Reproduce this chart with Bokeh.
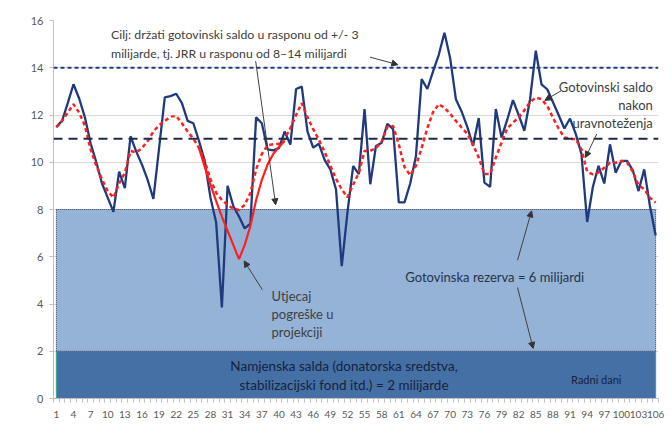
from bokeh.plotting import figure
from bokeh.models import Span, Label, Arrow, NormalHead, FixedTicker, Range1d
from bokeh.embed import file_html
from bokeh.resources import INLINE

# ---------------- data ----------------
DAYS = list(range(1, 107))
X_TICKS = [1, 4, 7, 10, 13, 16, 19, 22, 25, 28, 31, 34, 37, 40, 43, 46, 49, 52, 55,
           58, 61, 64, 67, 70, 73, 76, 79, 82, 85, 88, 91, 94, 97, 100, 103, 106]
Y_TICKS = [0, 2, 4, 6, 8, 10, 12, 14, 16]

# cash balance (bn), navy line
CASH_BALANCE = [
    11.5, 11.75, 12.5, 13.3, 12.7, 11.9, 10.8, 10.0, 9.1, 8.5,
    7.9, 9.6, 8.9, 11.1, 10.45, 9.9, 9.25, 8.45, 10.6, 12.75,
    12.8, 12.9, 12.5, 11.75, 11.65, 10.9, 10.05, 8.5, 7.45, 3.85,
    9.0, 8.15, 7.7, 7.2, 7.4, 11.9, 11.65, 10.55, 10.5, 10.6,
    11.3, 10.75, 13.1, 13.2, 11.3, 10.62, 10.78, 10.1, 9.7, 8.85,
    5.6, 7.87, 9.84, 9.5, 12.25, 9.07, 10.69, 10.83, 11.63, 11.4,
    8.3, 8.3, 9.1, 10.25, 13.52, 13.1, 13.85, 14.55, 15.48, 14.4,
    12.67, 12.15, 11.5, 10.69, 11.87, 9.14, 8.96, 12.25, 11.05, 11.8,
    12.63, 12.0, 11.33, 12.67, 14.72, 13.3, 13.09, 12.55, 12.0, 11.43,
    11.85, 11.2, 10.35, 7.47, 8.95, 9.85, 9.1, 10.76, 9.56, 10.06,
    10.06, 9.66, 8.78, 9.7, 8.15, 6.9,
]

# balance after smoothing (bn), red dashed
BALANCED = [
    11.47, 11.75, 12.1, 12.46, 12.1, 11.54, 10.55, 9.85, 9.28, 8.78,
    8.5, 9.1, 9.55, 10.48, 10.42, 10.6, 10.9, 11.3, 11.57, 11.75,
    11.93, 11.96, 11.65, 11.3, 11.0, 10.6, 10.05, 9.28, 8.71, 8.4,
    8.2, 8.03, 7.98, 8.2, 8.7, 9.7, 10.35, 10.72, 10.76, 10.78,
    11.0, 11.45, 12.0, 12.5, 11.9, 11.4, 10.95, 10.45, 9.85, 9.3,
    8.85, 8.52, 9.05, 9.55, 10.48, 10.48, 10.6, 10.88, 11.5, 11.54,
    10.75, 9.8, 9.45, 9.85, 10.6, 11.45, 12.12, 12.46, 12.3, 12.05,
    11.75, 11.47, 11.2, 10.75, 10.2, 9.5, 9.5, 10.2, 10.83, 11.43,
    11.68, 11.89, 12.2, 12.55, 12.74, 12.67, 12.39, 11.89, 11.43, 11.05,
    11.0, 10.97, 10.55, 9.6, 9.49, 9.56, 9.77, 9.98, 9.98, 10.06,
    9.98, 9.6, 9.03, 8.86, 8.5, 8.29,
]

# projection-error scenario (bn), red solid, days 26..41
ERROR_DAYS = list(range(26, 42))
PROJECTION_ERROR = [10.6, 9.8, 9.05, 8.35, 7.7, 7.1, 6.5, 5.9,
                    6.5, 7.3, 8.4, 9.25, 9.9, 10.35, 10.65, 10.9]

DEDICATED = 2.0     # namjenska salda
RESERVE = 6.0       # gotovinska rezerva
TARGET_MID = 11.0
TARGET_BAND = 3.0

NAVY = "#1F3A7D"
RED = "#FF1F1F"
FONT = "Lato"

p = figure(width=666, height=422, x_range=Range1d(0.5, 106.5), y_range=Range1d(0, 16),
           output_backend="svg", toolbar_location=None,
           min_border_left=53, min_border_right=8, min_border_top=20, min_border_bottom=24)
p.outline_line_color = None
p.background_fill_color = "white"
p.border_fill_color = "white"

# axes
p.xaxis.ticker = FixedTicker(ticks=X_TICKS, minor_ticks=[d - 0.5 for d in DAYS] + [DAYS[-1] + 0.5])
p.xaxis.major_tick_line_color = None
p.xaxis.major_tick_out = 0
p.xaxis.major_tick_in = 0
p.xaxis.minor_tick_out = 4
p.xaxis.minor_tick_in = 0
p.xaxis.minor_tick_line_color = "#bfbfbf"
p.xaxis.axis_line_color = "#bfbfbf"
p.xaxis.major_label_standoff = 8
p.xaxis.major_label_text_font = FONT
p.xaxis.major_label_text_font_size = "10px"
p.xaxis.major_label_text_color = "#595959"

p.yaxis.ticker = FixedTicker(ticks=Y_TICKS)
p.yaxis.minor_tick_line_color = None
p.yaxis.major_tick_out = 4
p.yaxis.major_tick_in = 0
p.yaxis.major_tick_line_color = "#bfbfbf"
p.yaxis.axis_line_color = "#bfbfbf"
p.yaxis.major_label_standoff = 6
p.yaxis.major_label_text_font = FONT
p.yaxis.major_label_text_font_size = "11px"
p.yaxis.major_label_text_color = "#595959"

p.xgrid.grid_line_color = None
p.ygrid.ticker = FixedTicker(ticks=Y_TICKS)
p.ygrid.grid_line_color = "#d9d9d9"

# bands
x_band = [DAYS[0], DAYS[-1]]
p.varea(x=x_band, y1=[0, 0], y2=[DEDICATED, DEDICATED], fill_color="#4470A6")
p.varea(x=x_band, y1=[DEDICATED, DEDICATED],
        y2=[DEDICATED + RESERVE, DEDICATED + RESERVE], fill_color="#95B3D7")
p.line(x=x_band, y=[DEDICATED + RESERVE] * 2, line_color="#2a3550", line_dash="1 1", line_width=1)
p.line(x=x_band, y=[DEDICATED] * 2, line_color="#2a3550", line_dash="1 1", line_width=1)
for xe in x_band:
    p.line(x=[xe, xe], y=[DEDICATED, DEDICATED + RESERVE], line_color="#2a3550",
           line_dash="1 1", line_width=1)
    p.line(x=[xe, xe], y=[0, DEDICATED], line_color="#3aa58c", line_width=1)

# target lines
p.add_layout(Span(location=TARGET_MID + TARGET_BAND, dimension="width", line_color=NAVY,
                  line_dash="4 3", line_width=2))
p.add_layout(Span(location=TARGET_MID, dimension="width", line_color="#1f2a44",
                  line_dash="9 6", line_width=2))

# series
p.line(DAYS, CASH_BALANCE, line_color=NAVY, line_width=2.3)
p.line(ERROR_DAYS, PROJECTION_ERROR, line_color=RED, line_width=2.2)
p.line(DAYS, BALANCED, line_color=RED, line_width=2.5, line_dash="4 3")

# annotations
def lab(x, y, text, align="left", size="13px", color="#404040"):
    p.add_layout(Label(x=x, y=y, text=text, text_align=align, text_baseline="middle",
                       text_font=FONT, text_font_size=size, text_color=color))

def arr(x0, y0, x1, y1):
    p.add_layout(Arrow(end=NormalHead(size=6, fill_color="#333333", line_color="#333333"),
                       x_start=x0, y_start=y0, x_end=x1, y_end=y1,
                       line_color="#404040", line_width=1))

lab(-2.6, 15.07, "bn", align="center", size="8px", color="#595959")
lab(10.58, 15.42, "Cilj: držati gotovinski saldo u rasponu od +/- 3", size="12.3px")
lab(10.58, 14.62, "milijarde, tj.  JRR u rasponu od 8\u201314 milijardi", size="12.3px")
arr(55.94, 14.45, 60.84, 14.13)
arr(35.92, 14.28, 39.42, 8.2)

lab(105.5, 13.2, "Gotovinski saldo", align="right")
lab(105.5, 12.44, "nakon", align="right")
lab(105.5, 11.67, "uravnoteženja", align="right")
arr(89.6, 13.05, 86.6, 12.62)
arr(95.7, 11.2, 93.7, 10.2)

lab(38.7, 4.33, "Utjecaj")
lab(38.7, 3.56, "pogreške u")
lab(38.7, 2.80, "projekciji")
arr(37.1, 4.6, 33.9, 5.82)

lab(77.8, 5.13, "Gotovinska rezerva = 6 milijardi", align="center", color="#26324a")
arr(81.8, 5.85, 84.26, 7.94)
arr(81.8, 4.70, 84.54, 2.12)

lab(51.4, 1.37, "Namjenska salda (donatorska sredstva,", align="center", size="13.5px",
    color="#18223a")
lab(51.4, 0.59, "stabilizacijski fond itd.) = 2 milijarde", align="center", size="13.5px",
    color="#18223a")
lab(95.6, 0.81, "Radni dani", align="center", size="11px", color="#18223a")

open("out.html", "w").write(file_html(p, INLINE))
